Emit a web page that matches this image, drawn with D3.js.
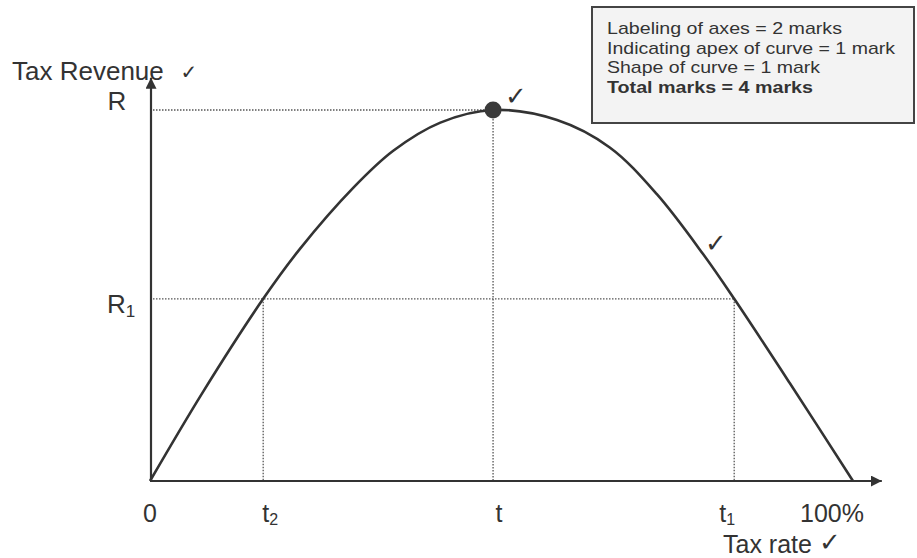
<!DOCTYPE html>
<html>
<head>
<meta charset="utf-8">
<script src="https://cdn.jsdelivr.net/npm/d3@7"></script>
<style>
  html, body { margin: 0; padding: 0; background: #ffffff; }
  svg { display: block; }
  text { font-family: "Liberation Sans", Arial, sans-serif; fill: #333; }
</style>
</head>
<body>
<svg id="chart" width="917" height="558"></svg>
<script>
// ---- data ----
const taxRate =    [0,   7.5, 16.1, 21.3, 28.9, 34.6, 41.3, 48.8, 57.9, 65.4, 72.1, 78.7, 83.1, 91.0, 100];
const taxRevenue = [0,  23.9, 49.1, 62.5, 79.0, 89.0, 96.6, 100,  97.3, 89.9, 77.3, 61.1, 49.1, 26.4, 0];
const apex = { rate: 48.8, revenue: 100 };
const levelR1 = 49.1;
const rateT2 = 16.1, rateT1 = 83.1;
const xTickLabels = ["0", "t2", "t", "t1", "100%"];
const xTickValues = [0, rateT2, apex.rate, rateT1, 100];
const noteLines = ["Labeling of axes = 2 marks", "Indicating apex of curve = 1 mark", "Shape of curve = 1 mark", "Total marks = 4 marks"];
const noteWidths = [235, 288, 213, 206];

const svg = d3.select("#chart");
const x = d3.scaleLinear().domain([0, 100]).range([150, 853]);
const y = d3.scaleLinear().domain([0, 100]).range([481, 110]);
const ink = "#333";

// dotted guide lines
const guides = svg.append("g").attr("stroke", "#555").attr("stroke-width", 1.3).attr("stroke-dasharray", "1.5,1.5").attr("fill", "none");
guides.append("line").attr("x1", x(0)).attr("x2", x(apex.rate)).attr("y1", y(apex.revenue)).attr("y2", y(apex.revenue));
guides.append("line").attr("x1", x(apex.rate)).attr("x2", x(apex.rate)).attr("y1", y(apex.revenue)).attr("y2", y(0));
guides.append("line").attr("x1", x(0)).attr("x2", x(rateT1)).attr("y1", y(levelR1)).attr("y2", y(levelR1));
guides.append("line").attr("x1", x(rateT2)).attr("x2", x(rateT2)).attr("y1", y(levelR1)).attr("y2", y(0));
guides.append("line").attr("x1", x(rateT1)).attr("x2", x(rateT1)).attr("y1", y(levelR1)).attr("y2", y(0));

// axes with arrowheads
const defs = svg.append("defs");
defs.append("marker").attr("id", "arrow").attr("viewBox", "0 0 10 10").attr("refX", 10).attr("refY", 5)
  .attr("markerWidth", 11).attr("markerHeight", 11).attr("markerUnits", "userSpaceOnUse").attr("orient", "auto")
  .append("path").attr("d", "M0,0 L10,5 L0,10 Z").attr("fill", ink);
const xEnd = 104.1, yEnd = 108.7;
svg.append("line").attr("x1", x(0)).attr("y1", y(0)).attr("x2", x(xEnd)).attr("y2", y(0))
  .attr("stroke", ink).attr("stroke-width", 2.2).attr("marker-end", "url(#arrow)");
svg.append("line").attr("x1", x(0) + 1).attr("y1", y(0)).attr("x2", x(0) + 1).attr("y2", y(yEnd))
  .attr("stroke", ink).attr("stroke-width", 2.2).attr("marker-end", "url(#arrow)");

// Laffer curve
const pts = taxRate.map((r, i) => [r, taxRevenue[i]]);
const line = d3.line().x(d => x(d[0])).y(d => y(d[1])).curve(d3.curveCatmullRom.alpha(0.5));
svg.append("path").datum(pts).attr("d", line).attr("fill", "none").attr("stroke", ink).attr("stroke-width", 2.6);

// apex dot
svg.append("circle").attr("cx", x(apex.rate)).attr("cy", y(apex.revenue)).attr("r", 8.5).attr("fill", "#3a3a3a");

// y labels
svg.append("text").attr("x", 117).attr("y", y(apex.revenue)).attr("text-anchor", "middle").attr("font-size", 26).text("R");
const r1 = svg.append("text").attr("x", 107).attr("y", 313).attr("font-size", 26);
r1.append("tspan").text("R");
r1.append("tspan").attr("font-size", 17).attr("dy", 4).text("1");

// x labels
const xLabelDx = [0, 7, 6, -7, -21];
xTickLabels.forEach((lab, i) => {
  const t = svg.append("text").attr("x", x(xTickValues[i]) + xLabelDx[i]).attr("y", 522)
    .attr("text-anchor", "middle").attr("font-size", 25);
  if (lab.length === 2 && lab[0] === "t") {
    t.append("tspan").text("t");
    t.append("tspan").attr("font-size", 16).attr("dy", 3).text(lab[1]);
  } else {
    t.text(lab);
  }
});

// axis titles
svg.append("text").attr("x", 12).attr("y", 80).attr("font-size", 26).text("Tax Revenue");
svg.append("text").attr("x", 723).attr("y", 553).attr("font-size", 25).text("Tax rate");

// check marks
const check = (cx, cy, s) => svg.append("text").attr("x", cx).attr("y", cy).attr("font-size", s)
  .attr("text-anchor", "middle").style("font-family", "'DejaVu Sans', sans-serif").text("\u2713");
check(189, 79, 20);
check(830, 551, 26);
check(516, 105, 26);
check(716, 252, 26);

// marking note box
svg.append("rect").attr("x", 592).attr("y", 7).attr("width", 322).attr("height", 116)
  .attr("fill", "#f3f3f3").attr("stroke", "#444").attr("stroke-width", 2);
noteLines.forEach((s, i) => {
  svg.append("text").attr("x", 607).attr("y", 34 + i * 19.7).attr("font-size", 17)
    .attr("textLength", noteWidths[i]).attr("lengthAdjust", "spacingAndGlyphs")
    .attr("font-weight", i === 3 ? "bold" : "normal").text(s);
});
</script>
</body>
</html>
